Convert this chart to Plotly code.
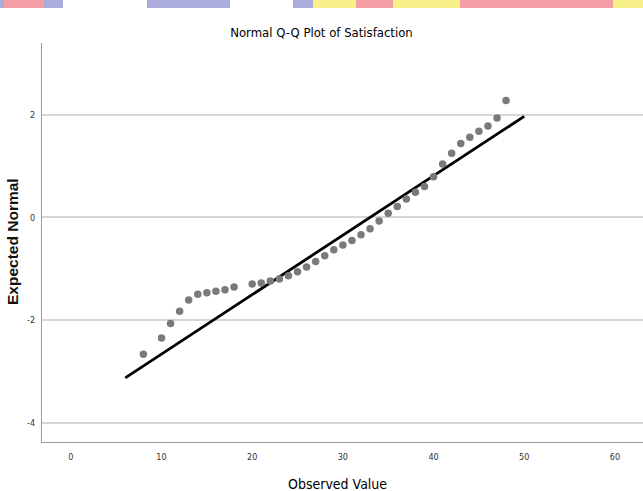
import plotly.graph_objects as go

# Observed values (distinct) and their expected normal scores
observed = [8, 10, 11, 12, 13, 14, 15, 16, 17, 18, 20, 21, 22, 23, 24, 25, 26, 27, 28, 29,
            30, 31, 32, 33, 34, 35, 36, 37, 38, 39, 40, 41, 42, 43, 44, 45, 46, 47, 48]
expected = [-2.67, -2.35, -2.07, -1.83, -1.61, -1.50, -1.47, -1.44, -1.41, -1.36,
            -1.30, -1.28, -1.24, -1.20, -1.14, -1.06, -0.97, -0.86, -0.75, -0.63,
            -0.54, -0.45, -0.34, -0.22, -0.07, 0.08, 0.21, 0.36, 0.49, 0.60,
            0.79, 1.04, 1.25, 1.44, 1.56, 1.68, 1.78, 1.94, 2.28]

# Reference line (normal with sample mean / sd)
line_x = [6, 50]
line_y = [-3.13, 1.97]

x_ticks = [0, 10, 20, 30, 40, 50, 60]
x_labels = ["0", "10", "20", "30", "40", "50", "60"]
y_ticks = [-4, -2, 0, 2]
y_labels = ["-4", "-2", "0", "2"]

W, H = 643, 491
L, R, T, B = 42, 0, 43, 49
pw, ph = W - L - R, H - T - B

COND = "DejaVu Sans Condensed, Liberation Sans, Arial, sans-serif"


def px_x(p):
    return (p - L) / pw


def px_y(p):
    return (H - B - p) / ph


fig = go.Figure()
fig.add_trace(go.Scatter(x=line_x, y=line_y, mode="lines",
                         line=dict(color="black", width=2.8), hoverinfo="skip"))
fig.add_trace(go.Scatter(x=observed, y=expected, mode="markers",
                         marker=dict(color="#7a7a7a", size=7.5, line=dict(width=0))))

# decorative blurred banner at the very top
banner = [
    (0, 4, "#a3a3d8"), (4, 44, "#f3949c"), (44, 63, "#a3a3d8"),
    (147, 230, "#a3a3d8"), (293, 313, "#a3a3d8"), (313, 356, "#f7f07c"),
    (356, 393, "#f3949c"), (393, 460, "#f7f07c"), (460, 613, "#f3949c"),
    (613, 643, "#f7f07c"),
]
shapes = []
for a, b, c in banner:
    shapes.append(dict(type="rect", xref="paper", yref="paper",
                       x0=px_x(a), x1=px_x(b), y0=px_y(8), y1=px_y(0),
                       fillcolor=c, line=dict(width=0), layer="below", opacity=0.9))

fig.update_layout(
    width=W, height=H,
    margin=dict(l=L, r=R, t=T, b=B),
    paper_bgcolor="white", plot_bgcolor="white",
    showlegend=False,
    font=dict(family="Liberation Sans, Arial, sans-serif", color="#222"),
    title=dict(text="Normal Q-Q Plot of Satisfaction", x=0.5, xref="container",
               xanchor="center", y=1 - 32 / H, yanchor="middle",
               font=dict(family=COND, size=13, color="#000")),
    xaxis=dict(range=[-3.18, 63.1], tickvals=x_ticks, ticktext=x_labels, showgrid=False,
               zeroline=False, showline=True, linecolor="#9a9a9a", linewidth=1, ticks="",
               tickfont=dict(family=COND, size=9, color="#333"), ticklabelstandoff=6),
    yaxis=dict(range=[-4.38, 3.40], tickvals=y_ticks, ticktext=y_labels, showgrid=True,
               gridcolor="#d6d6d6", gridwidth=1.5, zeroline=False, showline=True,
               linecolor="#9a9a9a", linewidth=1, ticks="",
               tickfont=dict(family=COND, size=9, color="#333"), ticklabelstandoff=4),
    shapes=shapes,
    annotations=[
        dict(text="Observed Value", xref="paper", yref="paper", x=px_x(337), y=px_y(484),
             xanchor="center", yanchor="middle", showarrow=False,
             font=dict(family=COND, size=14, color="#000")),
        dict(text="<b>Expected Normal</b>", xref="paper", yref="paper", x=px_x(12), y=px_y(242),
             xanchor="center", yanchor="middle", showarrow=False, textangle=-90,
             font=dict(size=15.5, color="#111")),
    ],
)

fig.write_html("out.html")
